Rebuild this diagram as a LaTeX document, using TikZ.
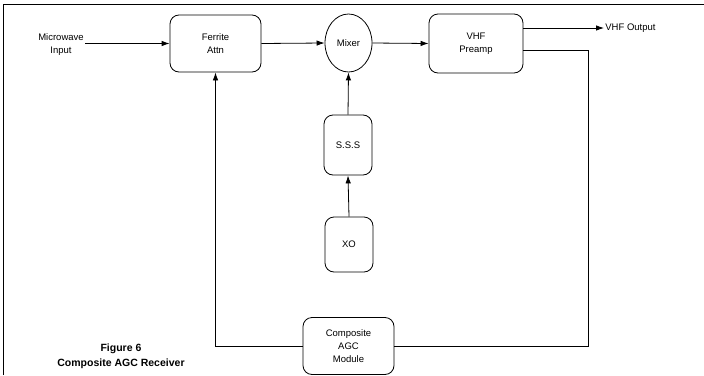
\documentclass[tikz,border=0pt]{standalone}
\usepackage{fontspec}
\setmainfont{Liberation Sans}
\usetikzlibrary{shapes.geometric,arrows.meta}
\begin{document}
\begin{tikzpicture}[x=1pt,y=-1pt,
  line width=0.8pt,
  blk/.style={draw, rounded corners=9pt, align=center, font=\fontsize{9.5}{13}\selectfont, inner sep=0pt},
  lbl/.style={align=center, font=\fontsize{9.5}{13}\selectfont, inner sep=1pt},
  arr/.style={-{Latex[length=8pt,width=5.5pt]}}]
\useasboundingbox (0,0) rectangle (704,375);
\draw[line width=1pt] (3,375) -- (3,4) -- (704,4);
\node[blk, minimum width=91pt, minimum height=57pt] (fa) at (215.5,43.5) {Ferrite\\Attn};
\node[draw, ellipse, minimum width=47pt, minimum height=58pt, inner sep=0pt, font=\fontsize{9.5}{13}\selectfont] (mx) at (348.5,43) {Mixer};
\node[blk, minimum width=94pt, minimum height=59pt] (pa) at (476,43.5) {VHF\\Preamp};
\node[blk, minimum width=48pt, minimum height=60pt] (sss) at (348,145) {S.S.S};
\node[blk, minimum width=48pt, minimum height=55pt] (xo) at (349,244.5) {XO};
\node[blk, minimum width=91pt, minimum height=57pt] (agc) at (348.5,346) {Composite\\AGC\\Module};
\node[lbl] (in) at (61,44.5) {Microwave\\Input};
\node[lbl, anchor=west] (vo) at (604,28) {VHF Output};
\node[align=center, font=\bfseries\fontsize{10.5}{15}\selectfont] (cap) at (121,356) {Figure 6\\Composite AGC Receiver};
\coordinate (fb) at (588,50);
\draw[arr] (in.east |- fa.west) -- (fa.west);
\draw[arr] (fa.east) -- (mx.west);
\draw[arr] (mx.east) -- (pa.west);
\draw[arr] (pa.east |- vo.west) -- (vo.west);
\draw[arr] (xo.north) -- (sss.south);
\draw[arr] (sss.north) -- (mx.south);
\draw (pa.east |- fb) -- (fb) |- (agc.east);
\draw[arr] (agc.west) -| (fa.south);
\end{tikzpicture}
\end{document}
